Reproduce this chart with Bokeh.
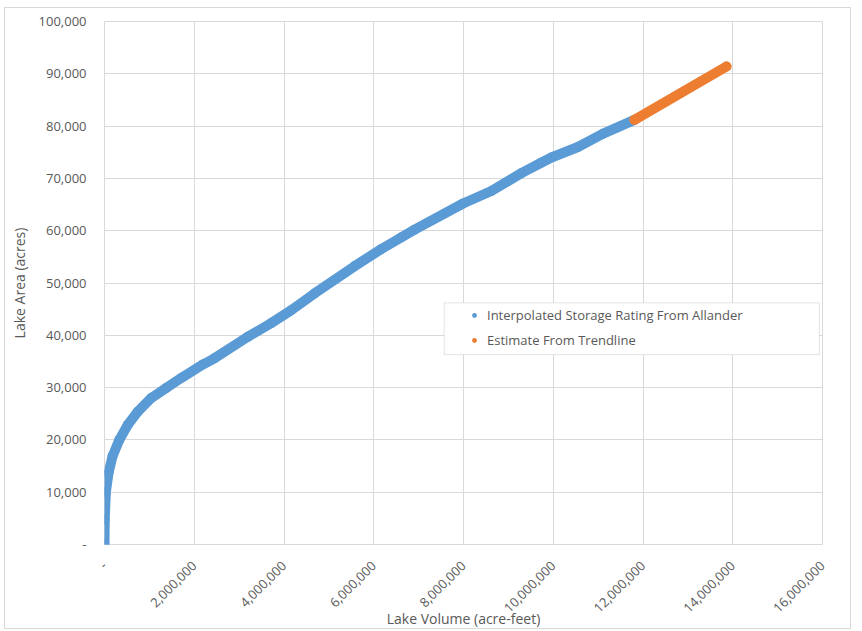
from bokeh.plotting import figure
from bokeh.models import (Range1d, FixedTicker, CustomJSTickFormatter, Legend,
                          LegendItem, BoxAnnotation)
from bokeh.embed import file_html
from bokeh.resources import INLINE
import math

# Storage rating: lake volume (acre-feet) vs lake area (acres)
rating_volume = [0, 5000, 30000, 90000, 180000, 330000, 520000, 740000,
                 1040000, 1370000, 1720000, 2190000, 2450000, 3190000,
                 3710000, 4160000, 4680000, 5570000, 6170000, 6610000,
                 6910000, 7990000, 8620000, 9290000, 9730000, 9960000,
                 10550000, 11100000, 11810000]
rating_area = [0, 4800, 10000, 13700, 16900, 20000, 22900, 25400,
               28000, 29900, 31900, 34400, 35600, 39700,
               42300, 44800, 48000, 53200, 56500, 58700,
               60200, 65200, 67600, 71000, 73000, 74000,
               76000, 78500, 81200]

# Extension estimated from the trendline
trend_volume = [11810000, 13860000]
trend_area = [81200, 91400]

x_ticks = [0, 2000000, 4000000, 6000000, 8000000, 10000000, 12000000,
           14000000, 16000000]
y_ticks = [0, 10000, 20000, 30000, 40000, 50000, 60000, 70000, 80000,
           90000, 100000]

BLUE = "#5B9BD5"
ORANGE = "#ED7D31"
TEXT = "#595959"
GRID = "#d9d9d9"
FONT = "Open Sans"

p = figure(width=847, height=622, output_backend="svg", toolbar_location=None,
           x_range=Range1d(0, 16000000), y_range=Range1d(0, 100000),
           min_border_left=99, min_border_top=13, min_border_right=30,
           min_border_bottom=85, margin=(7, 0, 0, 4),
           styles={"border": "1px solid #d9d9d9"})
p.outline_line_color = GRID
p.background_fill_color = "white"
p.border_fill_color = "white"

fmt = CustomJSTickFormatter(
    code="return tick == 0 ? '-' : tick.toLocaleString('en-US');")

for ax in (p.xaxis[0], p.yaxis[0]):
    ax.formatter = fmt
    ax.axis_line_color = None
    ax.major_tick_line_color = None
    ax.minor_tick_line_color = None
    ax.major_tick_out = 0
    ax.major_tick_in = 0
    ax.minor_tick_out = 0
    ax.minor_tick_in = 0
    ax.major_label_text_font = FONT
    ax.major_label_text_font_size = "13px"
    ax.major_label_text_color = TEXT
    ax.axis_label_text_font = FONT
    ax.axis_label_text_font_size = "14px"
    ax.axis_label_text_color = TEXT
    ax.axis_label_text_font_style = "normal"

p.xaxis.ticker = FixedTicker(ticks=x_ticks)
p.yaxis.ticker = FixedTicker(ticks=y_ticks)
p.xaxis.major_label_orientation = math.pi / 4
p.xaxis.major_label_standoff = 19
p.yaxis.major_label_standoff = 18
p.xaxis.axis_label = "Lake Volume (acre-feet)"
p.yaxis.axis_label = "Lake Area (acres)"
p.xaxis.axis_label_standoff = -11
p.yaxis.axis_label_standoff = 7

for g in (p.xgrid[0], p.ygrid[0]):
    g.grid_line_color = GRID
    g.grid_line_width = 1

# Dense marker series rendered as a thick stroke
p.line(rating_volume, rating_area, line_color=BLUE, line_width=10,
       line_cap="round", line_join="round")
r_rating = p.scatter(rating_volume, rating_area, size=10, fill_color=BLUE,
                     line_color=None)
p.line(trend_volume, trend_area, line_color=ORANGE, line_width=10,
       line_cap="round", line_join="round")
r_trend = p.scatter(trend_volume, trend_area, size=10, fill_color=ORANGE,
                    line_color=None)

# Legend frame
p.add_layout(BoxAnnotation(left=7570000, right=15930000, bottom=36300,
                           top=46200, fill_color="white", fill_alpha=1.0,
                           line_color="#a6a6a6", line_width=1, level="overlay"))

legend = Legend(items=[
    LegendItem(label="Interpolated Storage Rating From Allander",
               renderers=[r_rating]),
    LegendItem(label="Estimate From Trendline", renderers=[r_trend]),
], location=(364, 194))
legend.margin = 0
legend.padding = 0
legend.border_line_color = None
legend.background_fill_alpha = 0
legend.glyph_width = 12
legend.glyph_height = 12
legend.label_height = 20
legend.spacing = 5
legend.label_standoff = 7
legend.label_text_font = FONT
legend.label_text_font_size = "13px"
legend.label_text_color = TEXT
p.add_layout(legend, "center")

open("out.html", "w").write(file_html(p, INLINE))
